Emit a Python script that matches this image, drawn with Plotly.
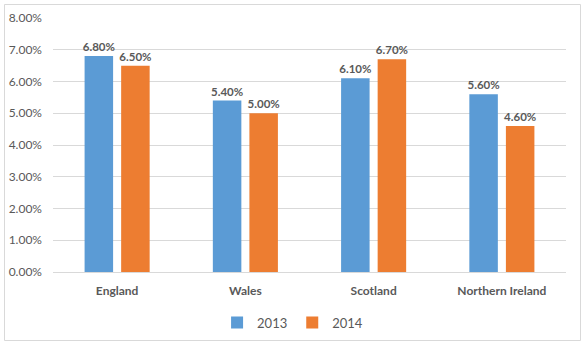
import plotly.graph_objects as go

categories = ["England", "Wales", "Scotland", "Northern Ireland"]
values_2013 = [6.8, 5.4, 6.1, 5.6]
values_2014 = [6.5, 5.0, 6.7, 4.6]
series_names = ["2013", "2014"]
y_ticks = [0, 1, 2, 3, 4, 5, 6, 7, 8]
y_tick_labels = [f"{v:.2f}%" for v in y_ticks]

FONT = "Lato, Calibri, Arial, sans-serif"
TXT = "#595959"
colors = ["#5B9BD5", "#ED7D31"]

fig = go.Figure()
for name, vals, col in zip(series_names, [values_2013, values_2014], colors):
    fig.add_trace(go.Bar(
        name=name, x=categories, y=vals, marker_color=col, marker_line_width=0,
        text=[f"{v:.2f}%" for v in vals], textposition="outside",
        constraintext="none",
        textfont=dict(family=FONT, size=11.5, color=TXT, weight="bold"),
        cliponaxis=False,
    ))

fig.update_layout(
    width=585, height=345,
    margin=dict(l=53, r=19, t=18, b=73, autoexpand=False),
    paper_bgcolor="white", plot_bgcolor="white",
    barmode="group", bargap=0.43, bargroupgap=0.22,
    font=dict(family=FONT, color=TXT, size=12),
    showlegend=True,
    legend=dict(orientation="h", x=0.467, xanchor="center", y=-0.14, yanchor="top",
                font=dict(family=FONT, size=13, color=TXT), itemwidth=30,
                bgcolor="rgba(0,0,0,0)", traceorder="normal"),
    uniformtext=dict(mode=False),
)
fig.update_yaxes(range=[0, 8], tickvals=y_ticks, ticktext=y_tick_labels,
                 showgrid=True, gridcolor="#D9D9D9", gridwidth=1,
                 zeroline=False, showline=False, ticks="", ticklabelstandoff=10,
                 tickfont=dict(family=FONT, size=12, color=TXT))
fig.update_xaxes(showline=True, linecolor="#D9D9D9", linewidth=1, ticks="",
                 tickfont=dict(family=FONT, size=12, color=TXT, weight="bold"),
                 ticklabelstandoff=8)

# chart border
fig.add_shape(type="rect", xref="paper", yref="paper",
              x0=(4.5 - 53) / 513, x1=(580.5 - 53) / 513,
              y0=-(340.5 - 272) / 254, y1=1 + (18 - 4.5) / 254,
              line=dict(color="#D9D9D9", width=1), fillcolor="rgba(0,0,0,0)",
              layer="below")

fig.write_html("out.html")
